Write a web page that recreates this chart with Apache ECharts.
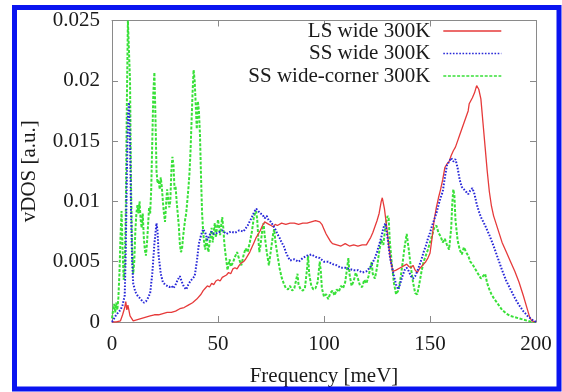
<!DOCTYPE html>
<html>
<head>
<meta charset="utf-8">
<script src="https://cdn.jsdelivr.net/npm/echarts@6/dist/echarts.min.js"></script>
<style>
  html, body { margin: 0; padding: 0; background: #fff; }
  #chart { width: 562px; height: 392px; }
</style>
</head>
<body>
<div id="chart"></div>
<script>
// Vibrational density of states at 300 K, [frequency (meV), vDOS (a.u.)]
const seriesNames = ['LS wide 300K', 'SS wide 300K', 'SS wide-corner 300K'];

const lsWide = [
  [0,0],[2,0],[4,0.0001],[5,0.0006],[6,0.0012],[6.5,0.0017],[7,0.0010],[7.5,0.0014],[8.5,0.0005],[10,0.0001],
  [12,0.0002],[14,0.0003],[16,0.0004],[18,0.0005],[20,0.0006],[22,0.0006],[24,0.0007],[26,0.0008],[28,0.0008],
  [30,0.0009],[32,0.0011],[34,0.0012],[36,0.0014],[38,0.0016],[40,0.0019],[42,0.0023],[43,0.0026],[44,0.0028],
  [45,0.0030],[46,0.0029],[47,0.0032],[48,0.0031],[49,0.0034],[50,0.0035],[51,0.0034],[52,0.0037],[54,0.0039],
  [55,0.0041],[56,0.0040],[57,0.0044],[58,0.0045],[59,0.0044],[60,0.0047],[61,0.0049],[62,0.0050],[63,0.0052],
  [64,0.0055],[65,0.0058],[66,0.0062],[67,0.0066],[68,0.0070],[69,0.0073],[70,0.0076],[71,0.0080],[72,0.0083],
  [73,0.0082],[74,0.0081],[75,0.0080],[76,0.0079],[77,0.0081],[78,0.0080],[80,0.0082],[82,0.0081],[84,0.0082],
  [86,0.0082],[88,0.0081],[90,0.0082],[92,0.0082],[94,0.0083],[96,0.0084],[98,0.0083],[99,0.0081],[100,0.0077],
  [101,0.0073],[102,0.0070],[103,0.0067],[104,0.0065],[106,0.0064],[108,0.0063],[110,0.0065],[112,0.0063],
  [114,0.0064],[116,0.0063],[118,0.0064],[120,0.0064],[121,0.0067],[122,0.0070],[123,0.0074],[124,0.0079],
  [125,0.0084],[126,0.0090],[127,0.0100],[127.5,0.0103],[128.5,0.0094],[129.5,0.0080],[130.5,0.0064],
  [131.5,0.0050],[132.5,0.0042],[134,0.0043],[136,0.0045],[138,0.0047],[139,0.0048],[140,0.0046],[141,0.0045],
  [142,0.0047],[143,0.0043],[144,0.0041],[145,0.0044],[146,0.0046],[147,0.0048],[148,0.0050],[149,0.0053],
  [150,0.0057],[151,0.0070],[152,0.0085],[153,0.0095],[154,0.0103],[155,0.0110],[156,0.0118],[157,0.0128],
  [158,0.0131],[159,0.0133],[160,0.0138],[161,0.0142],[162,0.0145],[163,0.0150],[164,0.0155],[165,0.0160],
  [166,0.0165],[167,0.0170],[168,0.0175],[168.5,0.0181],[169,0.0180],[170,0.0186],[171,0.0190],[172,0.0196],
  [173,0.0193],[174,0.0185],[175,0.0165],[176,0.0145],[177,0.0125],[178,0.0108],[179,0.0096],[180,0.0088],
  [182,0.0077],[184,0.0066],[186,0.0058],[188,0.0050],[190,0.0042],[192,0.0033],[194,0.0022],[196,0.0010],
  [197,0.0004],[198,0.0001],[200,0]
];

const ssWide = [
  [0,0],[1,0.0003],[2,0.0006],[3,0.0008],[4,0.0010],[5,0.0014],[6,0.0022],[6.5,0.0060],[7,0.0120],[7.5,0.0170],
  [8,0.0182],[8.5,0.0150],[9,0.0090],[9.5,0.0050],[10,0.0032],[11,0.0025],[12,0.0022],[13,0.0020],[14,0.0018],
  [15,0.0016],[16,0.0017],[17,0.0020],[18,0.0024],[19,0.0040],[20,0.0065],[21,0.0082],[21.5,0.0075],[22,0.0055],
  [23,0.0040],[24,0.0033],[25,0.0031],[26,0.0030],[27,0.0029],[28,0.0030],[29,0.0028],[30,0.0031],[31,0.0035],
  [32,0.0038],[33,0.0033],[34,0.0029],[35,0.0027],[36,0.0031],[37,0.0034],[38,0.0036],[39,0.0038],[40,0.0050],
  [41,0.0065],[42,0.0072],[43,0.0077],[44,0.0074],[45,0.0068],[46,0.0072],[47,0.0075],[48,0.0073],[50,0.0074],
  [52,0.0076],[54,0.0073],[56,0.0075],[58,0.0074],[60,0.0076],[62,0.0075],[64,0.0080],[66,0.0087],[67,0.0091],
  [68,0.0094],[69,0.0092],[70,0.0090],[71,0.0089],[72,0.0086],[73,0.0088],[74,0.0084],[75,0.0083],[76,0.0080],
  [77,0.0077],[78,0.0073],[79,0.0070],[80,0.0066],[81,0.0063],[82,0.0058],[83,0.0054],[84,0.0051],[86,0.0052],
  [88,0.0050],[90,0.0053],[92,0.0055],[94,0.0056],[96,0.0054],[98,0.0053],[100,0.0050],[102,0.0050],[104,0.0048],
  [106,0.0047],[108,0.0045],[110,0.0045],[112,0.0044],[114,0.0043],[116,0.0043],[118,0.0041],[120,0.0042],
  [122,0.0046],[124,0.0053],[125,0.0058],[126,0.0064],[127,0.0070],[128,0.0078],[129,0.0082],[130,0.0070],
  [131,0.0055],[132,0.0046],[133,0.0038],[134,0.0031],[135,0.0027],[136,0.0032],[137,0.0038],[138,0.0043],
  [139,0.0045],[140,0.0042],[141,0.0038],[142,0.0036],[143,0.0038],[144,0.0042],[145,0.0047],[146,0.0052],
  [147,0.0058],[148,0.0063],[149,0.0069],[150,0.0074],[151,0.0080],[152,0.0085],[153,0.0090],[154,0.0097],
  [155,0.0103],[156,0.0108],[157,0.0120],[158,0.0130],[159,0.0133],[160,0.0136],[161,0.0133],[162,0.0135],
  [163,0.0128],[164,0.0118],[165,0.0112],[166,0.0110],[167,0.0108],[168,0.0106],[169,0.0109],[170,0.0111],
  [171,0.0106],[172,0.0098],[173,0.0092],[174,0.0087],[176,0.0080],[178,0.0072],[180,0.0063],[182,0.0053],
  [184,0.0043],[186,0.0034],[188,0.0027],[190,0.0020],[192,0.0014],[194,0.0009],[196,0.0005],[198,0.0002],[200,0]
];

const ssWideCorner = [
  [0,0.0003],[0.5,0.0010],[1,0.0015],[1.5,0.0008],[2,0.0016],[2.5,0.0010],[3,0.0020],[3.5,0.0040],[4,0.0070],
  [4.5,0.0092],[5,0.0060],[5.5,0.0035],[6,0.0045],[6.5,0.0090],[7,0.0180],[7.5,0.0250],[8,0.0250],[8.5,0.0200],
  [9,0.0110],[9.5,0.0060],[10,0.0040],[10.5,0.0050],[11,0.0075],[11.5,0.0090],[12,0.0097],[12.5,0.0090],
  [13,0.0100],[13.5,0.0085],[14,0.0078],[14.5,0.0090],[15,0.0070],[15.5,0.0060],[16,0.0055],[16.5,0.0065],
  [17,0.0080],[17.5,0.0095],[18,0.0090],[18.5,0.0110],[19,0.0150],[19.5,0.0190],[20,0.0207],[20.5,0.0170],
  [21,0.0125],[21.5,0.0115],[22,0.0118],[22.5,0.0110],[23,0.0120],[23.5,0.0112],[24,0.0100],[24.5,0.0090],
  [25,0.0083],[25.5,0.0097],[26,0.0110],[26.5,0.0102],[27,0.0095],[27.5,0.0100],[28,0.0125],[28.5,0.0137],
  [29,0.0130],[29.5,0.0110],[30,0.0112],[30.5,0.0100],[31,0.0090],[31.5,0.0080],[32,0.0065],[32.5,0.0058],
  [33,0.0060],[33.5,0.0070],[34,0.0078],[34.5,0.0085],[35,0.0090],[35.5,0.0100],[36,0.0110],[36.5,0.0122],
  [37,0.0140],[37.5,0.0165],[38,0.0190],[38.5,0.0209],[39,0.0200],[39.5,0.0180],[40,0.0160],[40.5,0.0183],
  [41,0.0175],[41.5,0.0155],[42,0.0120],[42.5,0.0090],[43,0.0075],[43.5,0.0065],[44,0.0060],[44.5,0.0070],
  [45,0.0063],[45.5,0.0058],[46,0.0065],[46.5,0.0072],[47,0.0078],[47.5,0.0066],[48,0.0075],[48.5,0.0082],
  [49,0.0070],[49.5,0.0078],[50,0.0085],[50.5,0.0079],[51,0.0072],[51.5,0.0080],[52,0.0087],[52.5,0.0078],
  [53,0.0065],[53.5,0.0057],[54,0.0050],[54.5,0.0043],[55,0.0048],[55.5,0.0052],[56,0.0046],[57,0.0049],
  [58,0.0054],[59,0.0058],[60,0.0052],[61,0.0047],[62,0.0055],[63,0.0061],[64,0.0058],[65,0.0066],[66,0.0075],
  [67,0.0088],[68,0.0092],[68.5,0.0085],[69,0.0070],[69.5,0.0058],[70,0.0063],[71,0.0078],[71.5,0.0082],
  [72,0.0072],[73,0.0058],[74,0.0047],[75,0.0060],[76,0.0073],[76.5,0.0077],[77,0.0068],[78,0.0056],[79,0.0045],
  [80,0.0037],[81,0.0032],[82,0.0028],[83,0.0027],[84,0.0030],[85,0.0026],[86,0.0028],[87,0.0036],[87.5,0.0040],
  [88,0.0031],[89,0.0027],[90,0.0026],[91,0.0028],[92,0.0044],[92.5,0.0055],[93,0.0040],[94,0.0030],[95,0.0027],
  [96,0.0028],[97,0.0033],[98,0.0050],[98.5,0.0042],[99,0.0028],[100,0.0021],[101,0.0023],[102,0.0019],
  [103,0.0024],[104,0.0026],[105,0.0022],[106,0.0027],[107,0.0025],[108,0.0030],[109,0.0028],[110,0.0033],
  [111,0.0046],[111.5,0.0053],[112,0.0040],[113,0.0030],[114,0.0034],[115,0.0041],[116,0.0036],[117,0.0030],
  [118,0.0029],[119,0.0035],[120,0.0032],[121,0.0038],[122,0.0046],[122.5,0.0050],[123,0.0040],[124,0.0036],
  [125,0.0045],[126,0.0058],[127,0.0068],[128,0.0064],[129,0.0080],[130,0.0088],[130.5,0.0086],[131,0.0068],
  [132,0.0048],[133,0.0032],[134,0.0023],[135,0.0026],[136,0.0035],[137,0.0048],[138,0.0062],[139,0.0073],
  [140,0.0060],[141,0.0045],[142,0.0033],[143,0.0024],[144,0.0023],[145,0.0032],[146,0.0042],[147,0.0050],
  [148,0.0055],[149,0.0060],[150,0.0066],[151,0.0072],[152,0.0078],[153,0.0080],[154,0.0074],[155,0.0071],
  [156,0.0066],[157,0.0069],[158,0.0064],[159,0.0060],[160,0.0078],[160.5,0.0098],[161,0.0110],[161.5,0.0105],
  [162,0.0085],[163,0.0068],[164,0.0060],[165,0.0056],[166,0.0062],[167,0.0058],[168,0.0055],[169,0.0050],
  [170,0.0048],[171,0.0045],[172,0.0042],[173,0.0039],[174,0.0036],[175,0.0038],[176,0.0040],[177,0.0032],
  [178,0.0027],[179,0.0023],[180,0.0020],[182,0.0015],[184,0.0010],[186,0.0007],[188,0.0005],[190,0.0004],
  [192,0.0003],[194,0.0002],[196,0.0001],[198,0],[200,0]
];

// Axis ranges and tick spacing
const xRange = [0, 200], xStep = 50;
const yRange = [0, 0.025], yStep = 0.005;

const FONT = "'Liberation Serif', 'Times New Roman', serif";
const INK = '#1a1a1a';
const FRAME = '#8a8a8a';

const chart = echarts.init(document.getElementById('chart'), null, { renderer: 'canvas' });

function frameAxis(extra) {
  return Object.assign({
    type: 'value',
    axisLine: { show: true, onZero: false, lineStyle: { color: FRAME, width: 1 } },
    axisTick: { show: true, inside: true, length: 6, lineStyle: { color: FRAME } },
    splitLine: { show: false },
    axisLabel: { show: false }
  }, extra);
}

chart.setOption({
  animation: false,
  backgroundColor: '#fff',
  textStyle: { fontFamily: FONT },
  grid: { left: 112, right: 26, top: 20.5, bottom: 70, containLabel: false },
  graphic: [{
    type: 'rect',
    shape: { x: 14.5, y: 7.5, width: 544.5, height: 381.5 },
    style: { fill: 'none', stroke: '#0a14f0', lineWidth: 5 },
    silent: true, z: 100
  }],
  legend: {
    orient: 'vertical',
    right: 60,
    top: 20,
    padding: 0,
    align: 'right',
    itemWidth: 58,
    itemHeight: 12,
    itemGap: 0.5,
    itemStyle: { opacity: 0 },
    lineStyle: { width: 1.4 },
    textStyle: { fontFamily: FONT, fontSize: 21, color: INK, lineHeight: 22, padding: [0, 8, 0, 0] },
    data: seriesNames
  },
  xAxis: [
    frameAxis({
      min: xRange[0], max: xRange[1], interval: xStep,
      position: 'bottom',
      name: 'Frequency [meV]', nameLocation: 'middle', nameGap: 44,
      nameTextStyle: { fontFamily: FONT, fontSize: 21, color: INK },
      axisLabel: { show: true, margin: 12, fontFamily: FONT, fontSize: 21, color: INK }
    }),
    frameAxis({ min: xRange[0], max: xRange[1], interval: xStep, position: 'top' })
  ],
  yAxis: [
    frameAxis({
      min: yRange[0], max: yRange[1], interval: yStep,
      position: 'left',
      name: 'vDOS [a.u.]', nameLocation: 'middle', nameGap: 72,
      nameTextStyle: { fontFamily: FONT, fontSize: 21, color: INK },
      axisLabel: { show: true, margin: 12, fontFamily: FONT, fontSize: 21, color: INK }
    }),
    frameAxis({ min: yRange[0], max: yRange[1], interval: yStep, position: 'right' })
  ],
  series: [
    {
      name: seriesNames[0], type: 'line', data: lsWide, showSymbol: false, symbol: 'none',
      xAxisIndex: 0, yAxisIndex: 0, z: 3,
      lineStyle: { color: '#e63a3a', width: 1.3, type: 'solid' },
      itemStyle: { color: '#e63a3a' }
    },
    {
      name: seriesNames[1], type: 'line', data: ssWide, showSymbol: false, symbol: 'none',
      xAxisIndex: 0, yAxisIndex: 0, z: 4,
      lineStyle: { color: '#2828d8', width: 2, type: [1.6, 1.6] },
      itemStyle: { color: '#2828d8' }
    },
    {
      name: seriesNames[2], type: 'line', data: ssWideCorner, showSymbol: false, symbol: 'none',
      xAxisIndex: 0, yAxisIndex: 0, z: 2,
      lineStyle: { color: '#38e038', width: 2, type: [3, 1.6] },
      itemStyle: { color: '#38e038' }
    }
  ]
});
</script>
</body>
</html>
